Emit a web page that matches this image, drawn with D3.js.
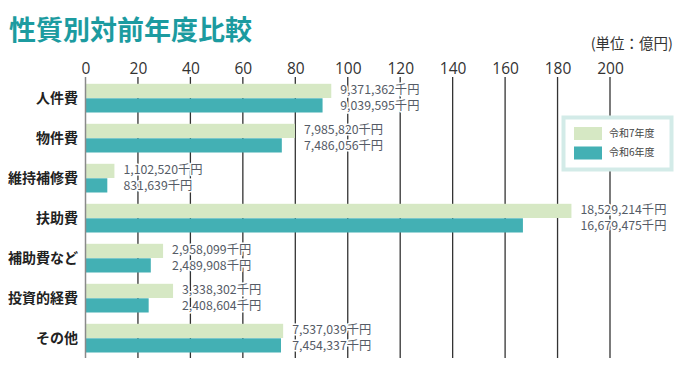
<!DOCTYPE html>
<html><head><meta charset="utf-8">
<script src="https://cdn.jsdelivr.net/npm/d3@7"></script>
<style>
html,body{margin:0;padding:0;background:#fff;}
svg{display:block;font-family:"Noto Sans CJK JP","Noto Sans",sans-serif;}
</style></head>
<body><svg id="c" width="690" height="369"></svg>
<script>
const categories = ["人件費","物件費","維持補修費","扶助費","補助費など","投資的経費","その他"];
const seriesNames = ["令和7年度","令和6年度"];
const valuesR7 = [9371362, 7985820, 1102520, 18529214, 2958099, 3338302, 7537039]; // 千円
const valuesR6 = [9039595, 7486056, 831639, 16679475, 2489908, 2408604, 7454337]; // 千円
const tickValues = [0,20,40,60,80,100,120,140,160,180,200];
const colors = ["#d6e8c4","#43b0b4"];

const svg = d3.select("#c");
const x = d3.scaleLinear().domain([0,200]).range([85.5,610]);
const y = d3.scaleBand().domain(categories).range([78,358]).paddingInner(0.275).paddingOuter(0.1375);
const ySub = d3.scaleBand().domain(seriesNames).range([0,y.bandwidth()]);
const toOku = v => v/100000;
const fmt = d3.format(",");

// title
svg.append("text").attr("x",9).attr("y",40).attr("font-size",27).attr("font-weight",700)
  .attr("fill","#1c9ba0").text("性質別対前年度比較");
svg.append("text").attr("x",673).attr("y",49).attr("text-anchor","end").attr("font-size",14.5)
  .attr("fill","#333").text("(単位：億円)");

// axis
const axis = d3.axisTop(x).tickValues(tickValues).tickSize(0).tickPadding(0);
const ag = svg.append("g").attr("transform","translate(0,74)").call(axis);
ag.select(".domain").remove();
ag.selectAll("text").attr("font-size",15.5).attr("fill","#333").attr("font-family","'Open Sans','Noto Sans',sans-serif");

// gridlines
svg.append("g").selectAll("line").data(tickValues.slice(1)).join("line")
  .attr("x1",d=>x(d)).attr("x2",d=>x(d)).attr("y1",77).attr("y2",358)
  .attr("stroke","#333").attr("stroke-width",1.3);

// bars
const groups = svg.append("g").selectAll("g").data(categories).join("g")
  .attr("transform",d=>`translate(0,${y(d)})`);
const rows = categories.map((c,i)=>[
  {s:seriesNames[0], v:valuesR7[i], c:colors[0]},
  {s:seriesNames[1], v:valuesR6[i], c:colors[1]}]);
groups.selectAll("rect").data((d,i)=>rows[i]).join("rect")
  .attr("x",x(0)).attr("y",d=>ySub(d.s)+0.3).attr("height",ySub.bandwidth()-0.3)
  .attr("width",d=>x(toOku(d.v))-x(0)).attr("fill",d=>d.c);

// value labels
groups.each(function(d,i){
  const g = d3.select(this);
  const lx = x(toOku(Math.max(valuesR7[i],valuesR6[i]))) + 9;
  rows[i].forEach((r,j)=>{
    g.append("text").attr("x",lx).attr("y",ySub(r.s)+ySub.bandwidth()/2+(j===0?0:1.2))
      .attr("dominant-baseline","middle").attr("font-size",12.3).attr("fill","#555b66")
      .attr("stroke","#fff").attr("stroke-width",3).attr("paint-order","stroke")
      .attr("stroke-linejoin","round")
      .text(fmt(r.v)+"千円");
  });
});

// zero line
svg.append("line").attr("x1",x(0)).attr("x2",x(0)).attr("y1",77).attr("y2",358)
  .attr("stroke","#8a8a8a").attr("stroke-width",1.5);

// category labels
svg.append("g").selectAll("text").data(categories).join("text")
  .attr("x",78).attr("y",d=>y(d)+y.bandwidth()/2+1).attr("text-anchor","end")
  .attr("dominant-baseline","middle").attr("font-size",14).attr("font-weight",700)
  .attr("fill","#222").text(d=>d);

// legend
const lg = svg.append("g");
lg.append("rect").attr("x",563.5).attr("y",117.5).attr("width",108).attr("height",52)
  .attr("fill","#fff").attr("stroke","#d3ebe8").attr("stroke-width",4);
seriesNames.forEach((s,i)=>{
  lg.append("rect").attr("x",574).attr("y",127+i*19.5).attr("width",28).attr("height",13).attr("fill",colors[i]);
  lg.append("text").attr("x",609).attr("y",134+i*19.5).attr("dominant-baseline","middle")
    .attr("font-size",10).attr("fill","#444").text(s);
});
</script></body></html>
